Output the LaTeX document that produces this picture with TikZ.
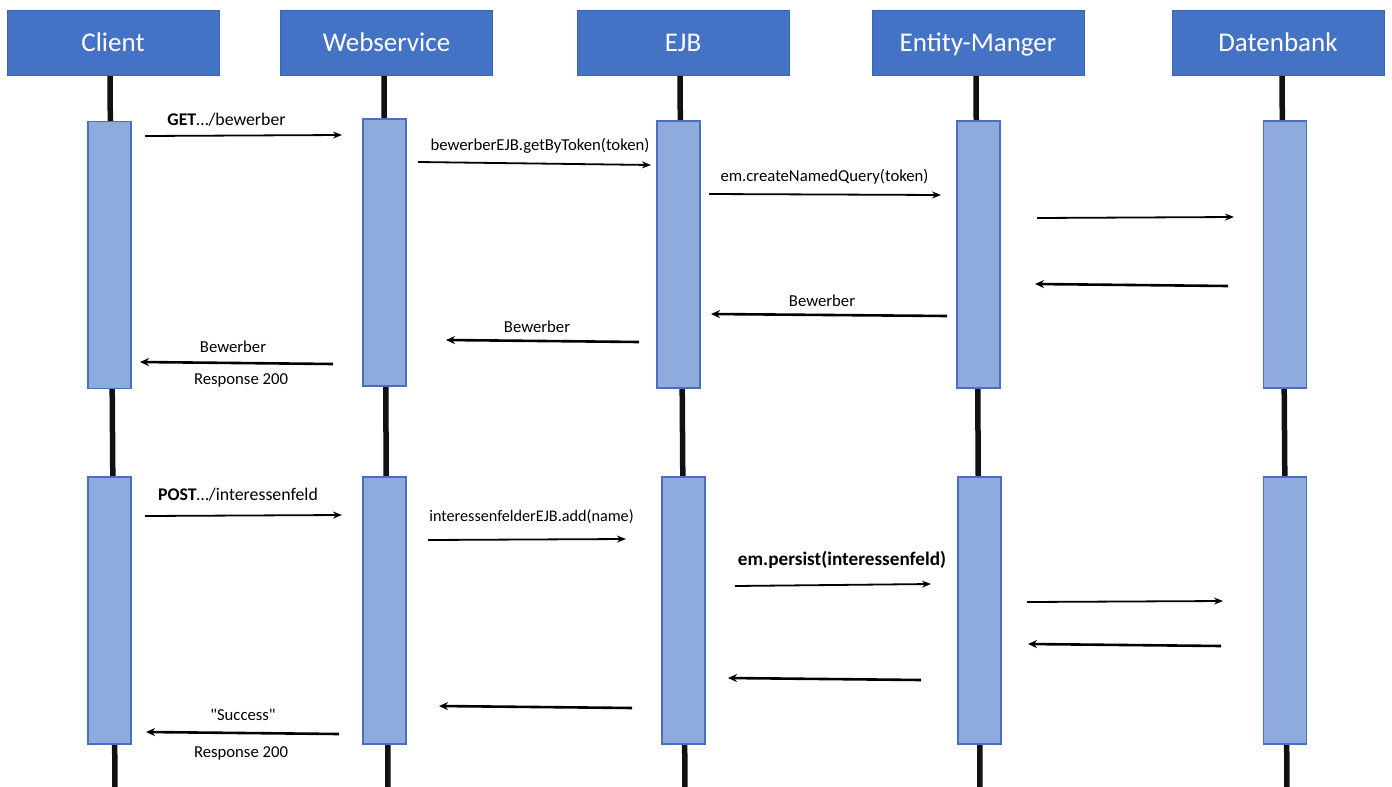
\documentclass[tikz,border=0pt]{standalone}
\usepackage{fontspec}
\setmainfont{Carlito}[Ligatures=TeXOff]
\usetikzlibrary{arrows.meta}
\definecolor{hdr}{HTML}{4472C4}
\definecolor{hdrline}{HTML}{3A64B0}
\definecolor{act}{HTML}{8FAADC}
\definecolor{actline}{HTML}{4A6FBF}
\definecolor{lifeclr}{HTML}{111111}

\begin{document}
\begin{tikzpicture}[x=1pt,y=-1pt,
  header/.style={draw=hdrline, line width=0.8pt, fill=hdr, text=white,
    font=\fontsize{27}{31}\selectfont, minimum width=212pt, minimum height=65pt, inner sep=0pt,
    text height=17.5pt, text depth=0pt},
  bar/.style={draw=actline, line width=1.2pt, fill=act, inner sep=0pt,
    minimum width=43pt, minimum height=267pt},
  life/.style={line width=5.5pt, lifeclr},
  msg/.style={-{Stealth[length=9pt,width=7pt]}, line width=1.8pt},
  ret/.style={-{Stealth[length=9pt,width=8pt]}, line width=2.6pt},
  lbl/.style={font=\fontsize{16.7}{19}\selectfont, inner sep=0pt},
  reqlbl/.style={font=\fontsize{17.8}{21}\selectfont, inner sep=0pt}
]
\useasboundingbox (0,0) rectangle (1392,787);

% lifeline end points
\coordinate (clTop) at (110,75);   \coordinate (clBot) at (115,790);
\coordinate (wsTop) at (384,75);   \coordinate (wsBot) at (388,790);
\coordinate (ejTop) at (680,75);   \coordinate (ejBot) at (685,790);
\coordinate (emTop) at (976,75);   \coordinate (emBot) at (980,790);
\coordinate (dbTop) at (1282,75);  \coordinate (dbBot) at (1287,790);

% lifelines
\draw[life] (clTop) -- (clBot);
\draw[life] (wsTop) -- (wsBot);
\draw[life] (ejTop) -- (ejBot);
\draw[life] (emTop) -- (emBot);
\draw[life] (dbTop) -- (dbBot);

% participants
\node[header] (client) at (113,42.5)   {Client};
\node[header] (ws)     at (386.5,42.5) {Webservice};
\node[header] (ejb)    at (683,42.5)   {EJB};
\node[header] (em)     at (978,42.5)   {Entity-Manger};
\node[header] (db)     at (1278,42.5)  {Datenbank};

% activations, first request
\node[bar] (cl1) at (109.5,255)   {};
\node[bar] (ws1) at (384.5,252.5) {};
\node[bar] (ej1) at (678.5,254.5) {};
\node[bar] (em1) at (978.5,254.5) {};
\node[bar] (db1) at (1285,254.5)  {};

% activations, second request
\node[bar] (cl2) at (109.5,610.5) {};
\node[bar] (ws2) at (384.5,610.5) {};
\node[bar] (ej2) at (683.5,610.5) {};
\node[bar] (em2) at (979.5,610.5) {};
\node[bar] (db2) at (1285,610.5)  {};

% message end points, first request
\coordinate (a1s) at (145,136);   \coordinate (a1e) at (342,135);
\coordinate (a2s) at (418,162);   \coordinate (a2e) at (651,165);
\coordinate (a3s) at (709,194);   \coordinate (a3e) at (941,195);
\coordinate (a4s) at (1037,218);  \coordinate (a4e) at (1234,217);
\coordinate (a5s) at (1228,286);  \coordinate (a5e) at (1035,284);
\coordinate (a6s) at (947,316);   \coordinate (a6e) at (711,314);
\coordinate (a7s) at (639,342);   \coordinate (a7e) at (446,340);
\coordinate (a8s) at (333,364);   \coordinate (a8e) at (140,362);

\draw[msg] (a1s) -- (a1e);
\draw[msg] (a2s) -- (a2e);
\draw[msg] (a3s) -- (a3e);
\draw[msg] (a4s) -- (a4e);
\draw[ret] (a5s) -- (a5e);
\draw[ret] (a6s) -- (a6e);
\draw[ret] (a7s) -- (a7e);
\draw[ret] (a8s) -- (a8e);

\node[reqlbl] (t1) at (226.5,120) {\textbf{GET}…/bewerber};
\node[lbl] (t2)  at (540,146) {bewerberEJB.getByToken(token)};
\node[lbl] (t3)  at (824.5,177) {em.createNamedQuery(token)};
\node[lbl] (t6)  at (822,301) {Bewerber};
\node[lbl] (t7)  at (537,327) {Bewerber};
\node[lbl] (t8a) at (233,347) {Bewerber};
\node[lbl] (t8b) at (241,380) {Response 200};

% message end points, second request
\coordinate (b1s) at (145,516);   \coordinate (b1e) at (342,515);
\coordinate (b2s) at (428,540);   \coordinate (b2e) at (626,539);
\coordinate (b3s) at (735,586);   \coordinate (b3e) at (931,584);
\coordinate (b4s) at (1027,602);  \coordinate (b4e) at (1223,601);
\coordinate (b5s) at (1221,646);  \coordinate (b5e) at (1028,644);
\coordinate (b6s) at (921,680);   \coordinate (b6e) at (728,678);
\coordinate (b7s) at (632,708);   \coordinate (b7e) at (439,706);
\coordinate (b8s) at (339,734);   \coordinate (b8e) at (146,732);

\draw[msg] (b1s) -- (b1e);
\draw[msg] (b2s) -- (b2e);
\draw[msg] (b3s) -- (b3e);
\draw[msg] (b4s) -- (b4e);
\draw[ret] (b5s) -- (b5e);
\draw[ret] (b6s) -- (b6e);
\draw[ret] (b7s) -- (b7e);
\draw[ret] (b8s) -- (b8e);

\node[reqlbl] (u1) at (238,495) {\textbf{POST}…/interessenfeld};
\node[lbl, font=\fontsize{16.2}{19}\selectfont] (u2) at (531.5,517) {interessenfelderEJB.add(name)};
\node[lbl, font=\fontsize{19.2}{22}\selectfont] (u3) at (842,560) {\textbf{em.persist(interessenfeld)}};
\node[lbl] (u8a) at (243,715) {"Success"};
\node[lbl] (u8b) at (241,753) {Response 200};
\end{tikzpicture}
\end{document}
